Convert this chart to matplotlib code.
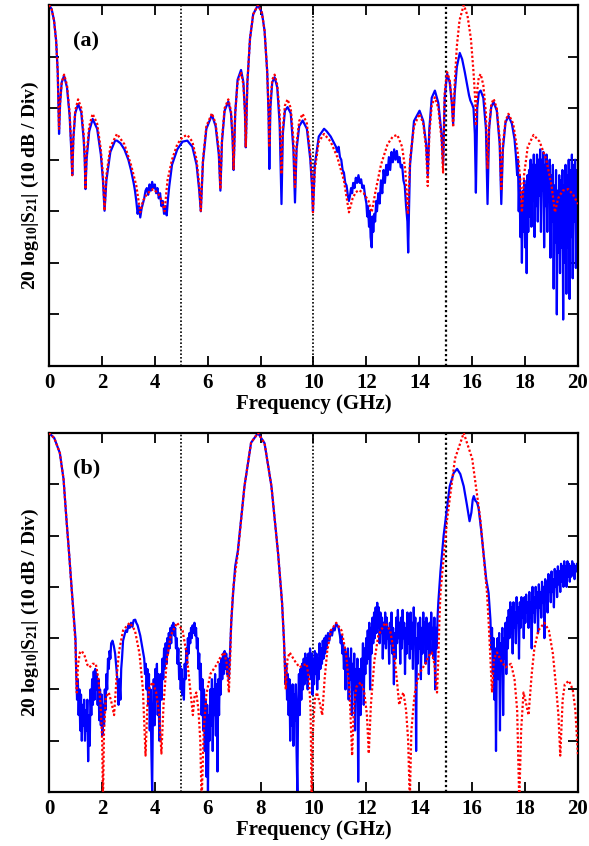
import numpy as np
import matplotlib.pyplot as plt

# frequency (GHz), |S21| (dB)
red_a = [(0, 0), (0.1, -0.8), (0.19, -3), (0.27, -7), (0.33, -13), (0.38, -24),
         (0.42, -19), (0.48, -15), (0.57, -13.5), (0.68, -15.5), (0.78, -21), (0.84, -27), (0.88, -33),
         (0.92, -26), (0.99, -20.5), (1.10, -18.3), (1.22, -20), (1.31, -25), (1.35, -29), (1.38, -35.7),
         (1.42, -29), (1.52, -23.5), (1.65, -21.1), (1.82, -23), (1.96, -28), (2.04, -33), (2.10, -39.9),
         (2.17, -33), (2.32, -27.5), (2.57, -25), (2.85, -27), (3.1, -31), (3.3, -35), (3.45, -40.2),
         (3.55, -38), (3.72, -36.5), (3.94, -35.7), (4.12, -36.5), (4.27, -38), (4.37, -40),
         (4.48, -34), (4.65, -30), (4.85, -27), (5.05, -25.6), (5.23, -25.2), (5.42, -26.5), (5.58, -30),
         (5.68, -35), (5.74, -39.9),
         (5.82, -30), (5.95, -23.5), (6.16, -21), (6.3, -23), (6.42, -28), (6.48, -35.7),
         (6.54, -26), (6.64, -20), (6.78, -18.3), (6.88, -20.5), (6.94, -25), (6.98, -31.8),
         (7.04, -21), (7.13, -15), (7.26, -13), (7.35, -15.5), (7.41, -21), (7.44, -27.6),
         (7.5, -15), (7.6, -6.5), (7.72, -1.8), (7.9, 0), (8.05, -1.5), (8.15, -5), (8.25, -13), (8.3, -20), (8.33, -27.6),
         (8.37, -19), (8.44, -14.5), (8.53, -13.5), (8.63, -15.5), (8.72, -21), (8.79, -32.8),
         (8.84, -24), (8.92, -19.5), (9.02, -18.3), (9.14, -20), (9.24, -26), (9.30, -35.6),
         (9.36, -27), (9.46, -22.5), (9.59, -21.1), (9.75, -23), (9.88, -29), (9.94, -34), (9.98, -40.2),
         (10.05, -32), (10.2, -26.5), (10.40, -25), (10.65, -26.5), (10.9, -29.5), (11.15, -34), (11.34, -40.2),
         (11.48, -37.5), (11.6, -36.3), (11.72, -35.9), (11.9, -36.5), (12.08, -38), (12.2, -40.2),
         (12.35, -36), (12.55, -31), (12.8, -27), (13.0, -25.5), (13.17, -25.2), (13.35, -27.5), (13.47, -32), (13.57, -40.6),
         (13.65, -30), (13.8, -23.5), (14.01, -21.1), (14.15, -23), (14.26, -28), (14.32, -35.1),
         (14.38, -25), (14.47, -19.5), (14.59, -17.9), (14.72, -20), (14.84, -26), (14.9, -32.5),
         (14.96, -17), (15.05, -13), (15.15, -14.5), (15.23, -18.5), (15.28, -23.7),
         (15.34, -15), (15.42, -8), (15.52, -3), (15.68, 0), (15.82, -2), (15.95, -6.5), (16.05, -13), (16.11, -18), (16.14, -23.4),
         (16.19, -16.5), (16.25, -14), (16.32, -13.4), (16.42, -15.5), (16.52, -21), (16.58, -31.8),
         (16.64, -23.5), (16.72, -19.3), (16.81, -18.2), (16.93, -20), (17.04, -26), (17.10, -36),
         (17.16, -27), (17.26, -22.5), (17.37, -21.1), (17.55, -23), (17.72, -28.5), (17.82, -34), (17.88, -40.2),
         (17.96, -33), (18.1, -27.5), (18.32, -25.2), (18.55, -26.5), (18.8, -30), (19.0, -35), (19.13, -40.2),
         (19.25, -37.5), (19.42, -36), (19.63, -35.7), (19.82, -36.8), (20.0, -38.6)]

blue_a = [(0, 0), (0.1, -0.8), (0.19, -3), (0.27, -7), (0.33, -13), (0.38, -25),
          (0.42, -19), (0.48, -15), (0.57, -13.7), (0.68, -16), (0.78, -21.5), (0.84, -28), (0.88, -33),
          (0.92, -26), (0.99, -21), (1.10, -19.2), (1.22, -20.8), (1.31, -26), (1.35, -30), (1.38, -35.7),
          (1.42, -30), (1.52, -24.5), (1.65, -22.1), (1.82, -24), (1.96, -29), (2.04, -34), (2.10, -39.9),
          (2.17, -34), (2.32, -28.5), (2.5, -26.3), (2.57, -26.3), (2.7, -26.8), (2.85, -28), (3.0, -30),
          (3.1, -32), (3.2, -34.5), (3.25, -36), (3.3, -38), (3.35, -40.5), (3.4, -39), (3.45, -41.2),
          (3.5, -39.5), (3.55, -38.5), (3.6, -37.5), (3.65, -36), (3.7, -35.5), (3.75, -36.8), (3.8, -34.8),
          (3.85, -36), (3.9, -34.3), (3.95, -35.5), (4.0, -34.8), (4.05, -36.5), (4.1, -35.5), (4.15, -37.5),
          (4.2, -36.5), (4.25, -39), (4.3, -38), (4.35, -40.5), (4.4, -39), (4.45, -40.8), (4.5, -37.5),
          (4.55, -35), (4.65, -31), (4.85, -28), (5.05, -26.5), (5.23, -26.3), (5.42, -27.5), (5.58, -31),
          (5.68, -36), (5.74, -40),
          (5.82, -30.5), (5.95, -24), (6.16, -21.3), (6.3, -23.5), (6.42, -29), (6.48, -36),
          (6.54, -26.5), (6.64, -20.5), (6.78, -18.7), (6.88, -21), (6.94, -26), (6.98, -32),
          (7.04, -21), (7.13, -14.5), (7.26, -12.6), (7.35, -15), (7.41, -21), (7.44, -27.6),
          (7.5, -15), (7.6, -6.5), (7.72, -1.8), (7.9, 0), (8.05, -1.5), (8.15, -5), (8.25, -13), (8.3, -21), (8.33, -31.8),
          (8.37, -20), (8.44, -15), (8.53, -14), (8.63, -16), (8.72, -23), (8.79, -38.6),
          (8.84, -25), (8.92, -20.5), (9.02, -19.8), (9.14, -21), (9.24, -28), (9.30, -38.3),
          (9.36, -28), (9.46, -23.5), (9.59, -22.4), (9.75, -24), (9.88, -30), (9.94, -35), (9.98, -40),
          (10.05, -31), (10.2, -25.5), (10.40, -24), (10.5, -24.5), (10.65, -25.5), (10.8, -27),
          (10.85, -27.5), (10.9, -28.5), (10.95, -27.5), (11.0, -29.5), (11.05, -30), (11.1, -32),
          (11.15, -32.5), (11.2, -34.5), (11.25, -35), (11.3, -37), (11.34, -38), (11.38, -37),
          (11.42, -35.5), (11.46, -36.5), (11.5, -34.5), (11.55, -35.5), (11.6, -33.5), (11.65, -34.5),
          (11.7, -33), (11.75, -34.5), (11.8, -33.8), (11.85, -35.5), (11.9, -35), (11.95, -37),
          (12.0, -38.5), (12.03, -41), (12.06, -39), (12.1, -43), (12.13, -40), (12.16, -45), (12.2, -47),
          (12.23, -41), (12.26, -44), (12.3, -40.5), (12.33, -42), (12.37, -38), (12.4, -40), (12.45, -36.5),
          (12.5, -38.5), (12.55, -34), (12.6, -36.5), (12.65, -32), (12.7, -34.5), (12.75, -31), (12.8, -33),
          (12.85, -29.5), (12.9, -32), (12.95, -28.5), (13.0, -30.5), (13.05, -28), (13.1, -30),
          (13.15, -28.3), (13.2, -30.5), (13.25, -29.5), (13.3, -31.5), (13.35, -31), (13.4, -34),
          (13.45, -35), (13.5, -39), (13.55, -42), (13.58, -48), (13.61, -40),
          (13.65, -31), (13.8, -22.5), (14.01, -20.5), (14.15, -22.5), (14.26, -27), (14.32, -33),
          (14.38, -24), (14.47, -18), (14.59, -16.6), (14.72, -19), (14.84, -25), (14.9, -31),
          (14.96, -18), (15.05, -13.3), (15.15, -15), (15.23, -19), (15.28, -23),
          (15.34, -17), (15.42, -12), (15.53, -9.3), (15.62, -10.5), (15.72, -13), (15.8, -15.3),
          (15.88, -17.5), (15.93, -18.5), (16.0, -19.3), (16.05, -20), (16.1, -25), (16.14, -36.4),
          (16.19, -20), (16.25, -17), (16.32, -16.6), (16.42, -18), (16.52, -24), (16.58, -38.6),
          (16.64, -24), (16.72, -19.8), (16.81, -18.8), (16.93, -20.5), (17.04, -27), (17.10, -38.6),
          (17.16, -28), (17.26, -22.8), (17.37, -21.5), (17.5, -23), (17.6, -26),
          (17.65, -29), (17.7, -33), (17.73, -30), (17.76, -40), (17.79, -33), (17.82, -45), (17.85, -38),
          (17.88, -50), (17.91, -36), (17.94, -44), (17.97, -34), (18.0, -47), (18.03, -35), (18.06, -52),
          (18.09, -33), (18.12, -44), (18.15, -32), (18.18, -41), (18.21, -30), (18.24, -43), (18.27, -31),
          (18.3, -38), (18.33, -29), (18.36, -45), (18.39, -31), (18.42, -39), (18.45, -29), (18.48, -42),
          (18.51, -30), (18.54, -37), (18.57, -28), (18.6, -44), (18.63, -30), (18.66, -36), (18.69, -28.5),
          (18.72, -47), (18.75, -31), (18.78, -39), (18.81, -29), (18.84, -44), (18.87, -32), (18.9, -38),
          (18.93, -30), (18.96, -49), (18.99, -33), (19.02, -42), (19.05, -31), (19.08, -55), (19.11, -35),
          (19.14, -46), (19.17, -32), (19.2, -60), (19.23, -36), (19.26, -48), (19.29, -33), (19.32, -52),
          (19.35, -34), (19.38, -47), (19.41, -32), (19.44, -61), (19.47, -35), (19.5, -50), (19.53, -31),
          (19.56, -56), (19.59, -33), (19.62, -47), (19.65, -30), (19.68, -57), (19.71, -32), (19.74, -45),
          (19.77, -29), (19.8, -53), (19.83, -31), (19.86, -42), (19.89, -30), (19.92, -51), (19.95, -32),
          (19.98, -44), (20.0, -33)]

red_b = [(0, 0), (0.2, -1), (0.41, -3.9), (0.55, -9), (0.66, -16.9), (0.76, -23.5), (0.85, -29.9),
         (0.94, -36.6), (1.0, -41), (1.05, -50.6), (1.1, -45), (1.17, -42.8), (1.24, -42.5), (1.35, -43.5),
         (1.45, -45.2), (1.53, -45.7), (1.65, -45), (1.77, -45), (1.87, -48), (1.95, -53), (2.01, -60),
         (2.04, -72), (2.08, -58), (2.15, -51.5), (2.26, -50.6), (2.36, -52.5), (2.46, -55), (2.55, -48),
         (2.65, -42.5), (2.8, -38.5), (3.05, -37), (3.25, -38.5), (3.42, -43), (3.55, -50), (3.65, -62.9),
         (3.72, -53), (3.8, -49.5), (3.92, -48.6), (4.05, -50.5), (4.17, -55), (4.25, -62.5), (4.33, -53),
         (4.45, -44.5), (4.6, -39.5), (4.84, -37), (5.05, -38.5), (5.2, -43), (5.32, -49), (5.44, -55),
         (5.5, -51.5), (5.57, -50.6), (5.65, -54), (5.72, -60), (5.77, -72), (5.85, -58), (5.95, -51),
         (6.1, -47), (6.36, -45), (6.5, -43.5), (6.63, -42.8), (6.72, -45), (6.8, -50.6), (6.85, -44),
         (6.89, -36.6), (6.97, -30), (7.14, -23.4), (7.39, -10.4), (7.64, -1.9), (7.9, 0), (8.15, -2),
         (8.41, -10.4), (8.66, -23.4), (8.81, -33), (8.88, -40), (8.95, -50), (9.02, -44), (9.1, -42.8),
         (9.3, -44.5), (9.47, -45.7), (9.6, -45.3), (9.74, -45), (9.83, -48), (9.89, -54), (9.93, -72),
         (9.98, -58), (10.05, -52), (10.13, -50.6), (10.23, -52.5), (10.33, -55), (10.42, -48), (10.52, -42.5),
         (10.66, -38.5), (10.86, -37), (11.06, -38.5), (11.23, -43), (11.36, -50), (11.46, -62.9),
         (11.53, -53), (11.62, -49.5), (11.79, -48.6), (11.92, -50.5), (12.02, -55), (12.09, -62.5),
         (12.17, -53), (12.3, -44.5), (12.45, -39.5), (12.71, -37), (12.9, -38.5), (13.05, -43),
         (13.15, -48), (13.24, -53), (13.32, -51.5), (13.4, -50.6), (13.5, -54), (13.58, -60), (13.64, -72),
         (13.7, -58), (13.82, -51), (13.98, -47), (14.23, -45), (14.35, -43.5), (14.47, -42.8), (14.57, -45),
         (14.67, -50.6), (14.72, -44), (14.76, -36.6), (14.8, -31.2), (15.05, -16.9), (15.35, -5), (15.68, 0),
         (16.0, -5), (16.31, -16.9), (16.56, -31.2), (16.62, -36.6), (16.69, -44), (16.75, -50.6),
         (16.82, -44), (16.94, -42.8), (17.1, -44.5), (17.27, -45.7), (17.37, -45.3), (17.47, -45),
         (17.6, -48), (17.7, -54), (17.78, -72), (17.85, -58), (17.94, -50.6), (18.03, -52.5), (18.13, -55),
         (18.25, -47), (18.35, -42), (18.5, -38.5), (18.73, -37), (18.9, -38.5), (19.05, -43), (19.19, -50.6),
         (19.26, -55), (19.33, -62.9), (19.42, -52), (19.5, -49), (19.66, -48.3), (19.8, -50), (19.9, -54),
         (20.0, -62.9)]

blue_b = [(0, 0), (0.2, -1), (0.41, -3.9), (0.55, -9), (0.66, -16.9), (0.76, -23.5), (0.85, -29.9),
          (0.94, -36), (1.0, -40),
          (1.03, -47), (1.06, -52), (1.09, -48), (1.12, -55), (1.15, -50), (1.18, -58), (1.21, -51),
          (1.24, -60), (1.27, -53), (1.3, -57), (1.33, -52), (1.36, -60), (1.39, -54), (1.42, -58),
          (1.45, -52), (1.48, -64), (1.51, -55), (1.54, -61), (1.57, -50), (1.6, -55), (1.63, -48),
          (1.66, -53), (1.69, -46.5), (1.72, -52), (1.75, -46), (1.78, -50), (1.81, -47), (1.84, -53),
          (1.87, -48), (1.9, -56), (1.93, -50), (1.96, -57), (1.99, -51), (2.02, -59), (2.05, -53),
          (2.08, -57), (2.11, -50), (2.14, -54), (2.17, -47), (2.2, -50), (2.23, -44), (2.26, -46),
          (2.29, -42.5), (2.32, -44), (2.35, -41), (2.4, -40.5), (2.45, -41.5), (2.5, -43), (2.55, -46),
          (2.6, -49), (2.63, -53), (2.66, -48), (2.7, -52), (2.73, -46), (2.76, -44), (2.8, -40.5),
          (2.85, -39.5), (2.9, -38.5), (2.95, -38.8), (3.0, -37.5), (3.05, -38), (3.1, -37), (3.15, -37.8),
          (3.2, -36.5), (3.26, -36.4), (3.3, -37), (3.35, -37.5), (3.4, -38.5), (3.45, -39.5), (3.5, -41),
          (3.55, -42.5), (3.6, -44), (3.63, -47), (3.66, -45), (3.69, -50), (3.72, -46), (3.75, -53),
          (3.78, -47), (3.81, -58), (3.84, -50), (3.87, -62), (3.9, -70), (3.93, -54), (3.96, -48),
          (3.99, -57), (4.02, -46), (4.05, -52), (4.08, -45), (4.11, -55), (4.14, -47), (4.17, -60),
          (4.2, -50), (4.23, -47), (4.26, -52), (4.29, -44), (4.32, -48), (4.35, -42), (4.38, -46),
          (4.41, -41), (4.44, -45), (4.47, -40), (4.5, -43), (4.53, -39), (4.56, -42), (4.59, -38),
          (4.62, -41), (4.65, -37.5), (4.68, -39), (4.7, -37), (4.74, -39.5), (4.77, -38), (4.8, -42),
          (4.83, -40), (4.86, -45), (4.89, -42), (4.92, -48), (4.95, -45), (4.98, -50), (5.01, -46),
          (5.04, -51), (5.07, -48), (5.1, -52), (5.13, -45), (5.16, -48), (5.19, -42), (5.22, -45),
          (5.25, -40), (5.28, -43), (5.31, -39), (5.34, -41), (5.37, -38), (5.4, -40), (5.43, -37.5),
          (5.46, -39), (5.5, -37), (5.53, -39.5), (5.56, -38), (5.59, -42), (5.62, -40), (5.65, -46),
          (5.68, -43), (5.71, -50), (5.74, -45), (5.77, -55), (5.8, -48), (5.83, -58), (5.86, -50),
          (5.89, -62), (5.92, -52), (5.95, -67), (5.98, -53), (6.01, -70), (6.04, -55), (6.07, -60),
          (6.1, -50), (6.13, -57), (6.16, -48), (6.19, -62), (6.22, -50), (6.25, -55), (6.28, -47),
          (6.31, -59), (6.34, -49), (6.37, -66), (6.4, -48), (6.43, -55), (6.46, -45), (6.49, -51),
          (6.52, -44), (6.55, -48), (6.58, -43), (6.61, -47), (6.64, -42.5), (6.67, -46), (6.7, -43),
          (6.73, -47), (6.76, -44), (6.8, -48), (6.84, -43), (6.89, -37), (6.95, -32), (7.04, -26),
          (7.14, -23), (7.39, -10.4), (7.64, -1.9), (7.9, 0), (8.15, -2), (8.41, -10.4), (8.66, -23.4),
          (8.81, -33), (8.88, -40), (8.91, -44),
          (8.94, -49), (8.97, -45), (9.0, -52), (9.03, -47), (9.06, -55), (9.09, -48), (9.12, -60),
          (9.15, -50), (9.18, -57), (9.21, -49), (9.24, -61), (9.27, -51), (9.3, -56), (9.33, -49),
          (9.36, -62), (9.39, -70), (9.42, -52), (9.45, -47), (9.48, -55), (9.51, -46), (9.54, -52),
          (9.57, -45), (9.6, -50), (9.63, -44), (9.66, -49), (9.69, -43), (9.72, -48), (9.75, -44),
          (9.78, -50), (9.81, -43), (9.84, -47), (9.87, -42), (9.9, -48), (9.93, -43), (9.96, -51),
          (9.99, -44), (10.02, -49), (10.05, -42.5), (10.08, -47), (10.11, -43), (10.14, -50), (10.17, -44),
          (10.2, -48), (10.23, -41), (10.26, -46), (10.29, -42), (10.32, -45), (10.35, -40.5), (10.38, -44),
          (10.41, -40), (10.44, -43), (10.47, -39.5), (10.5, -42), (10.55, -39), (10.6, -40.5), (10.65, -38.5),
          (10.7, -39.5), (10.75, -38), (10.8, -38.5), (10.85, -37.2), (10.9, -37.5), (10.95, -38), (11.0, -39.5),
          (11.03, -41), (11.06, -39.5), (11.09, -43), (11.12, -41), (11.15, -46), (11.18, -42), (11.21, -50),
          (11.24, -43), (11.27, -47), (11.3, -42), (11.33, -52), (11.36, -44), (11.39, -48), (11.42, -42),
          (11.45, -55), (11.48, -45), (11.51, -50), (11.54, -43), (11.57, -58), (11.6, -46), (11.63, -52),
          (11.66, -44), (11.69, -68), (11.72, -50), (11.75, -46), (11.78, -55), (11.81, -44), (11.84, -49),
          (11.87, -41), (11.9, -53), (11.93, -42), (11.96, -47), (11.99, -40), (12.02, -45), (12.05, -38.5),
          (12.08, -44), (12.11, -37), (12.14, -50), (12.17, -38), (12.2, -43), (12.23, -36), (12.26, -41),
          (12.29, -35), (12.32, -40), (12.35, -34), (12.38, -39), (12.41, -33.1), (12.44, -38), (12.47, -34),
          (12.5, -41), (12.53, -35), (12.56, -39), (12.59, -36), (12.62, -44), (12.65, -37), (12.68, -41),
          (12.71, -35), (12.74, -42), (12.77, -36), (12.8, -40), (12.83, -38), (12.86, -45), (12.89, -37),
          (12.92, -41), (12.95, -35), (12.98, -43), (13.01, -38), (13.04, -49), (13.07, -39), (13.1, -44),
          (13.13, -36), (13.16, -41), (13.19, -34.5), (13.22, -40), (13.25, -37), (13.28, -45), (13.31, -36),
          (13.34, -42), (13.37, -34.5), (13.4, -40), (13.43, -37), (13.46, -47), (13.49, -38), (13.52, -43),
          (13.55, -35), (13.58, -41), (13.61, -38), (13.64, -44), (13.67, -35), (13.7, -42), (13.73, -37),
          (13.76, -46), (13.79, -34), (13.82, -40), (13.85, -36), (13.88, -62), (13.91, -40), (13.94, -45),
          (13.97, -37), (14.0, -42), (14.03, -36), (14.06, -48), (14.09, -38), (14.12, -43), (14.15, -35),
          (14.18, -41), (14.21, -37), (14.24, -45), (14.27, -36), (14.3, -42), (14.33, -38), (14.36, -47),
          (14.39, -37), (14.42, -43), (14.45, -35), (14.48, -40), (14.51, -38), (14.54, -44), (14.57, -36),
          (14.6, -50), (14.63, -38), (14.66, -42), (14.69, -36), (14.72, -33), (14.8, -27), (14.92, -20),
          (15.15, -10.4), (15.3, -7.8), (15.43, -7.0), (15.55, -8), (15.68, -10.4), (15.8, -14), (15.9, -17.2),
          (15.97, -15.5), (16.02, -13), (16.06, -12.3), (16.12, -13.2), (16.18, -13.5), (16.24, -14.6),
          (16.33, -18.5), (16.43, -23.4), (16.53, -28.5), (16.62, -31.2), (16.69, -36.4), (16.72, -42),
          (16.75, -38), (16.78, -47), (16.81, -40), (16.84, -52), (16.87, -42), (16.9, -62), (16.93, -45),
          (16.96, -40), (16.99, -48), (17.02, -39), (17.05, -58), (17.08, -41), (17.11, -46), (17.14, -38),
          (17.17, -55), (17.2, -40), (17.23, -44), (17.26, -37), (17.29, -47), (17.32, -36), (17.35, -42),
          (17.38, -34.5), (17.41, -40), (17.44, -33), (17.47, -39), (17.5, -34), (17.53, -43), (17.56, -33),
          (17.59, -38), (17.62, -35), (17.65, -41), (17.68, -32), (17.71, -37), (17.74, -34), (17.77, -44),
          (17.8, -33), (17.83, -38), (17.86, -32), (17.89, -36), (17.92, -34), (17.95, -40), (17.98, -32),
          (18.01, -37), (18.04, -31.5), (18.07, -35), (18.1, -33), (18.13, -38), (18.16, -31), (18.19, -36),
          (18.22, -33), (18.25, -42), (18.28, -30), (18.31, -35), (18.34, -32), (18.37, -37), (18.4, -30),
          (18.43, -34), (18.46, -31), (18.49, -39), (18.52, -29.5), (18.55, -34), (18.58, -31), (18.61, -36),
          (18.64, -29), (18.67, -33), (18.7, -30), (18.73, -40), (18.76, -28.5), (18.79, -32), (18.82, -29),
          (18.85, -35), (18.88, -27.5), (18.91, -31), (18.94, -28), (18.97, -33), (19.0, -27), (19.03, -31),
          (19.06, -28.5), (19.09, -34), (19.12, -26.5), (19.15, -30), (19.18, -27), (19.21, -32), (19.24, -26),
          (19.27, -29.5), (19.3, -27), (19.33, -31), (19.36, -25.5), (19.39, -29), (19.42, -26), (19.45, -30),
          (19.48, -25), (19.51, -28.5), (19.54, -26), (19.57, -30), (19.6, -25), (19.63, -28), (19.66, -25.5),
          (19.69, -29), (19.72, -26), (19.75, -28), (19.78, -25), (19.81, -27.5), (19.84, -25.5), (19.87, -28.5),
          (19.9, -26), (19.93, -27), (19.96, -25.5), (20.0, -27)]

freq_ticks = [0, 2, 4, 6, 8, 10, 12, 14, 16, 18, 20]
db_ticks = [0, -10, -20, -30, -40, -50, -60, -70]
markers = [5, 10, 15]
panel_labels = ['(a)', '(b)']

plt.rcParams['font.family'] = 'Liberation Serif'
plt.rcParams['font.weight'] = 'bold'
plt.rcParams['mathtext.default'] = 'regular'

fig = plt.figure(figsize=(5.89, 8.46), dpi=100)
ax_a = fig.add_axes([0.0832, 0.5674, 0.8981, 0.4267])
ax_b = fig.add_axes([0.0832, 0.0638, 0.8981, 0.4244])

for ax, red, blue, lab in [(ax_a, red_a, blue_a, panel_labels[0]), (ax_b, red_b, blue_b, panel_labels[1])]:
    bf, bdb = np.array(blue).T
    rf, rdb = np.array(red).T
    ax.plot(bf, bdb, color='#0000ff', lw=1.6, zorder=2)
    ax.plot(rf, rdb, color='#ff0000', lw=1.6, ls=(0, (1, 1)), zorder=3)
    for m in markers:
        ax.axvline(m, color='black', ls=(0, (1, 1.2)), lw=1.2 if m < 15 else 1.6, zorder=1)
    ax.set_xlim(0, 20)
    ax.set_ylim(-70, 0)
    ax.set_xticks(freq_ticks)
    ax.set_yticks(db_ticks)
    ax.set_yticklabels([])
    ax.tick_params(direction='in', length=7, width=1.3, top=True, right=True, labelsize=15, pad=5)
    for s in ax.spines.values():
        s.set_linewidth(1.6)
    ax.set_xlabel('Frequency (GHz)', fontsize=15, fontweight='bold', labelpad=1)
    ax.set_ylabel(r'20 log$_{10}$|S$_{21}$| (10 dB / Div)', fontsize=14, fontweight='bold', labelpad=1)
    ax.text(0.045, 0.9, lab, transform=ax.transAxes, fontsize=16, fontweight='bold', va='center')

fig.savefig('out.png', dpi=100)
